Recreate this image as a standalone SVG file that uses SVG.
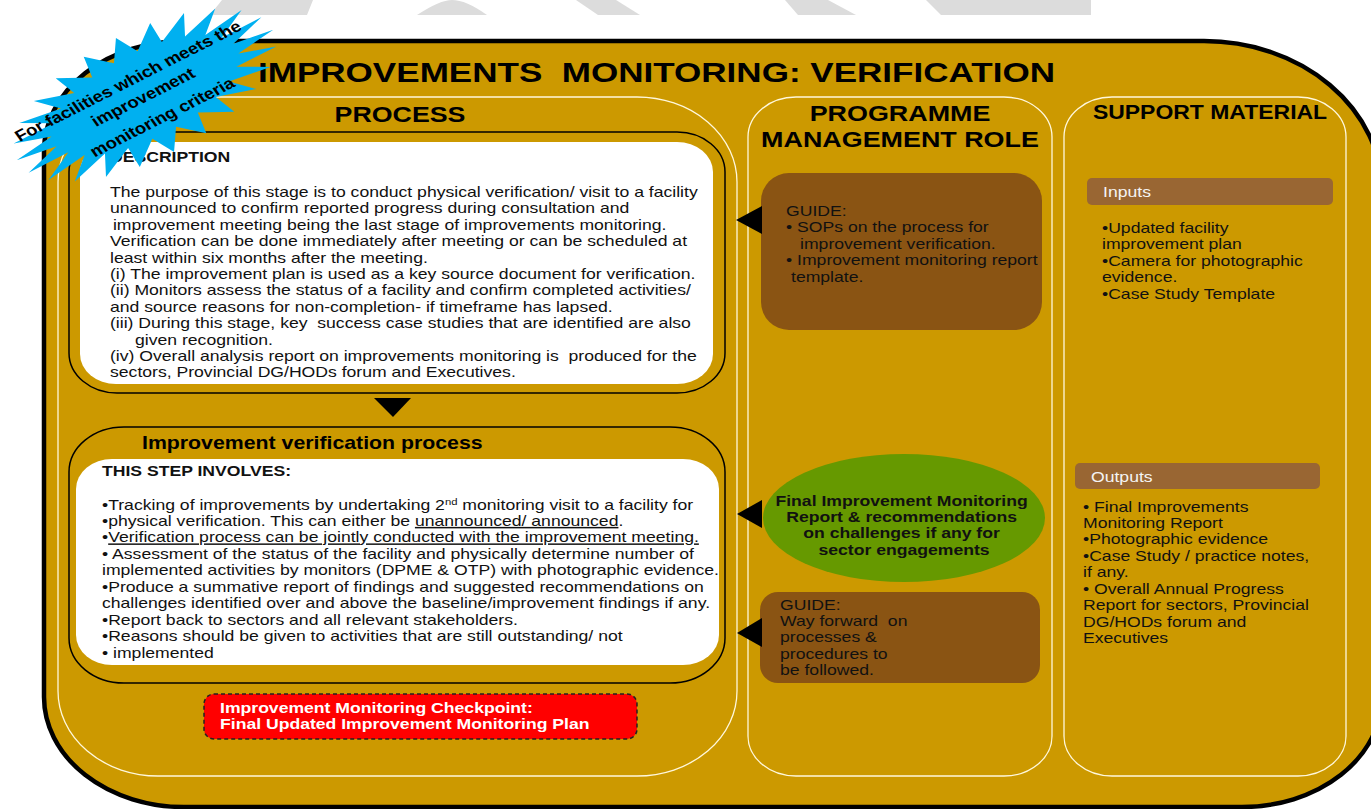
<svg xmlns="http://www.w3.org/2000/svg" width="1371" height="809" viewBox="0 0 1371 809">
<style>
text{font-family:"Liberation Sans",Arial,Helvetica,sans-serif}
.body{font-size:14.8px;fill:#111}
.bb{font-size:14.8px;font-weight:bold;fill:#111}
.hd{font-weight:bold;fill:#000}
.col{fill:none;stroke:#FFF8DC;stroke-width:1.3}
.panel{fill:#CC9900;stroke:#000;stroke-width:1.5}
.inner{fill:#FFFFFF}
.guide{fill:#8A5413}
.bar{fill:#996633}
.arrow{fill:#000}
.wm{fill:#DCDCDC}
</style>
<rect width="1371" height="809" fill="#FFFFFF"/>
<g id="watermark">
<polygon class="wm" points="222,0 313,0 307,15 210,15"/>
<path class="wm" d="M417,15 Q440,0 452,0 Q466,0 487,15 Z"/>
<polygon class="wm" points="576,0 616,0 640,15 598,15"/>
<polygon class="wm" points="785,0 828,0 856,15 798,15"/>
<polygon class="wm" points="926,0 1091,0 1091,15 941,15"/>
</g>
<g id="frame">
<path d="M184,41 L1204,41 A178,150 0 0 1 1382,191 L1382,697 A140,110 0 0 1 1242,807 L184,807 A140,110 0 0 1 44,697 L44,151 A140,110 0 0 1 184,41 Z" fill="#CC9900" stroke="#000" stroke-width="4.5"/>
<text class="hd" x="258" y="82" font-size="28" textLength="797" lengthAdjust="spacingAndGlyphs">IMPROVEMENTS&#160; MONITORING: VERIFICATION</text>
</g>
<g id="columns">
<rect class="col" x="58" y="97" width="679" height="679" rx="100" ry="85"/>
<rect class="col" x="748" y="97" width="304" height="679" rx="48" ry="40"/>
<rect class="col" x="1064" y="97" width="282" height="679" rx="48" ry="40"/>
<text class="hd" font-size="22.5" text-anchor="middle" transform="matrix(1.19 0 0 1 400 122)">PROCESS</text>
<text class="hd" font-size="22.6" text-anchor="middle" transform="matrix(1.19 0 0 1 900 121)"><tspan x="0" y="0">PROGRAMME</tspan><tspan x="0" y="26">MANAGEMENT ROLE</tspan></text>
<text class="hd" font-size="19.3" text-anchor="middle" transform="matrix(1.19 0 0 1 1210 119)">SUPPORT MATERIAL</text>
</g>
<g id="description">
<rect class="panel" x="69" y="132" width="656" height="261" rx="48" ry="40"/>
<rect class="inner" x="80" y="142" width="633" height="242" rx="36" ry="30"/>
<text class="bb" transform="matrix(1.19 0 0 1 110 162)">DESCRIPTION</text>
<text class="body" transform="matrix(1.19 0 0 1 110 197)">
<tspan x="0" y="0">The purpose of this stage is to conduct physical verification/ visit to a facility</tspan>
<tspan x="0" y="16.4">unannounced to confirm reported progress during consultation and</tspan>
<tspan x="2.5" y="32.8">improvement meeting being the last stage of improvements monitoring.</tspan>
<tspan x="0" y="49.2">Verification can be done immediately after meeting or can be scheduled at</tspan>
<tspan x="0" y="65.6">least within six months after the meeting.</tspan>
<tspan x="0" y="82">(i) The improvement plan is used as a key source document for verification.</tspan>
<tspan x="0" y="98.4">(ii) Monitors assess the status of a facility and confirm completed activities/</tspan>
<tspan x="0" y="114.8">and source reasons for non-completion- if timeframe has lapsed.</tspan>
<tspan x="0" y="131.2">(iii) During this stage, key&#160; success case studies that are identified are also</tspan>
<tspan x="21" y="147.6">given recognition.</tspan>
<tspan x="0" y="164">(iv) Overall analysis report on improvements monitoring is&#160; produced for the</tspan>
<tspan x="0" y="180.4">sectors, Provincial DG/HODs forum and Executives.</tspan>
</text>
</g>
<g id="verification-process">
<rect class="panel" x="69" y="427" width="656" height="256" rx="55" ry="45"/>
<rect class="inner" x="76" y="459" width="643" height="206" rx="36" ry="30"/>
<text class="hd" font-size="17.9" transform="matrix(1.19 0 0 1 142 449)">Improvement verification process</text>
<text class="bb" transform="matrix(1.19 0 0 1 102 476)">THIS STEP INVOLVES:</text>
<text class="body" transform="matrix(1.19 0 0 1 102 509.5)">
<tspan x="0" y="0">•Tracking of improvements by undertaking 2<tspan dy="-5" font-size="9.5">nd</tspan><tspan dy="5"> monitoring visit to a facility for</tspan></tspan>
<tspan x="0" y="16.5">•physical verification. This can either be <tspan text-decoration="underline">unannounced/ announced</tspan>.</tspan>
<tspan x="0" y="33">•<tspan text-decoration="underline">Verification process can be jointly conducted with the improvement meeting.</tspan></tspan>
<tspan x="0" y="49.5">• Assessment of the status of the facility and physically determine number of</tspan>
<tspan x="0" y="66">implemented activities by monitors (DPME &amp; OTP) with photographic evidence.</tspan>
<tspan x="0" y="82.5">•Produce a summative report of findings and suggested recommendations on</tspan>
<tspan x="0" y="99">challenges identified over and above the baseline/improvement findings if any.</tspan>
<tspan x="0" y="115.5">•Report back to sectors and all relevant stakeholders.</tspan>
<tspan x="0" y="132">•Reasons should be given to activities that are still outstanding/ not</tspan>
<tspan x="0" y="148.5">• implemented</tspan>
</text>
</g>
<g id="checkpoint">
<rect x="204" y="694" width="433" height="45" rx="10" fill="#FF0000" stroke="#222" stroke-width="1.5" stroke-dasharray="4 3"/>
<text class="bb" style="fill:#FFFFFF" transform="matrix(1.19 0 0 1 220 713)"><tspan x="0" y="0">Improvement Monitoring Checkpoint:</tspan><tspan x="0" y="16.5">Final Updated Improvement Monitoring Plan</tspan></text>
</g>
<g id="guide-sops">
<rect class="guide" x="761" y="173" width="281" height="157" rx="28" ry="28"/>
<text class="body" transform="matrix(1.19 0 0 1 786 216)">
<tspan x="0" y="0">GUIDE:</tspan>
<tspan x="0" y="16.5">• SOPs on the process for</tspan>
<tspan x="11.8" y="33">improvement verification.</tspan>
<tspan x="0" y="49.5">• Improvement monitoring report</tspan>
<tspan x="4.2" y="66">template.</tspan>
</text>
</g>
<g id="final-report">
<ellipse cx="904" cy="518" rx="141" ry="64" fill="#669900"/>
<text class="bb" text-anchor="middle" transform="matrix(1.19 0 0 1 904 505.5)">
<tspan x="0" y="0">Final Improvement Monitoring</tspan>
<tspan x="0" y="16.5">Report &amp; recommendations</tspan>
<tspan x="0" y="33">on challenges if any for</tspan>
<tspan x="0" y="49.5">sector engagements</tspan>
</text>
</g>
<g id="guide-way-forward">
<rect class="guide" x="760" y="592" width="280" height="91" rx="18" ry="18"/>
<text class="body" transform="matrix(1.19 0 0 1 780 609.5)">
<tspan x="0" y="0">GUIDE:</tspan>
<tspan x="0" y="16.5">Way forward&#160; on</tspan>
<tspan x="0" y="33">processes &amp;</tspan>
<tspan x="0" y="49.5">procedures to</tspan>
<tspan x="0" y="66">be followed.</tspan>
</text>
</g>
<g id="inputs">
<rect class="bar" x="1087" y="178" width="246" height="27" rx="5"/>
<text class="body" style="fill:#F4F4F4" transform="matrix(1.19 0 0 1 1103 197)">Inputs</text>
<text class="body" transform="matrix(1.19 0 0 1 1102 233)">
<tspan x="0" y="0">•Updated facility</tspan>
<tspan x="0" y="16.5">improvement plan</tspan>
<tspan x="0" y="33">•Camera for photographic</tspan>
<tspan x="0" y="49.5">evidence.</tspan>
<tspan x="0" y="66">•Case Study Template</tspan>
</text>
</g>
<g id="outputs">
<rect class="bar" x="1075" y="463" width="245" height="26" rx="5"/>
<text class="body" style="fill:#F4F4F4" transform="matrix(1.19 0 0 1 1091 482)">Outputs</text>
<text class="body" transform="matrix(1.19 0 0 1 1083 511.5)">
<tspan x="0" y="0">• Final Improvements</tspan>
<tspan x="0" y="16.5">Monitoring Report</tspan>
<tspan x="0" y="33">•Photographic evidence</tspan>
<tspan x="0" y="49.5">•Case Study / practice notes,</tspan>
<tspan x="0" y="66">if any.</tspan>
<tspan x="0" y="82.5">• Overall Annual Progress</tspan>
<tspan x="0" y="99">Report for sectors, Provincial</tspan>
<tspan x="0" y="115.5">DG/HODs forum and</tspan>
<tspan x="0" y="132">Executives</tspan>
</text>
</g>
<g id="connectors">
<polygon class="arrow" points="374,398 411,398 393,417"/>
<polygon class="arrow" points="736,220 762,206 762,234"/>
<polygon class="arrow" points="737,514 762,500 762,528"/>
<polygon class="arrow" points="737,633 762,618 762,647"/>
</g>
<g id="starburst">
<polygon fill="#00B0F0" transform="translate(145,95) rotate(-27)" points="144,0 102,5.5 139,16.5 94.3,16.3 124.7,32 81,26 101.8,45.1 62.2,33.9 72,55.4 39.1,39.5 37.3,61.8 13.3,42.3 0,64 -13.3,42.3 -37.3,61.8 -39.1,39.5 -72,55.4 -62.2,33.9 -101.8,45.1 -81,26 -124.7,32 -94.3,16.3 -139,16.5 -102,5.5 -144,0 -102,-5.5 -139,-16.5 -94.3,-16.3 -124.7,-32 -81,-26 -101.8,-45.1 -62.2,-33.9 -72,-55.4 -39.1,-39.5 -37.3,-61.8 -13.3,-42.3 0,-64 13.3,-42.3 37.3,-61.8 39.1,-39.5 72,-55.4 62.2,-33.9 101.8,-45.1 81,-26 124.7,-32 94.3,-16.3 139,-16.5 102,-5.5"/>
<text class="hd" font-size="15.7" text-anchor="middle" transform="translate(128,81) scale(1.19,1) rotate(-31)" y="5.5">For facilities which meets the</text>
<text class="hd" font-size="15.7" text-anchor="middle" transform="translate(143,97) scale(1.19,1) rotate(-31)" y="5.5">improvement</text>
<text class="hd" font-size="15.7" text-anchor="middle" transform="translate(162,117) scale(1.19,1) rotate(-31)" y="5.5">monitoring criteria</text>
</g>
</svg>
